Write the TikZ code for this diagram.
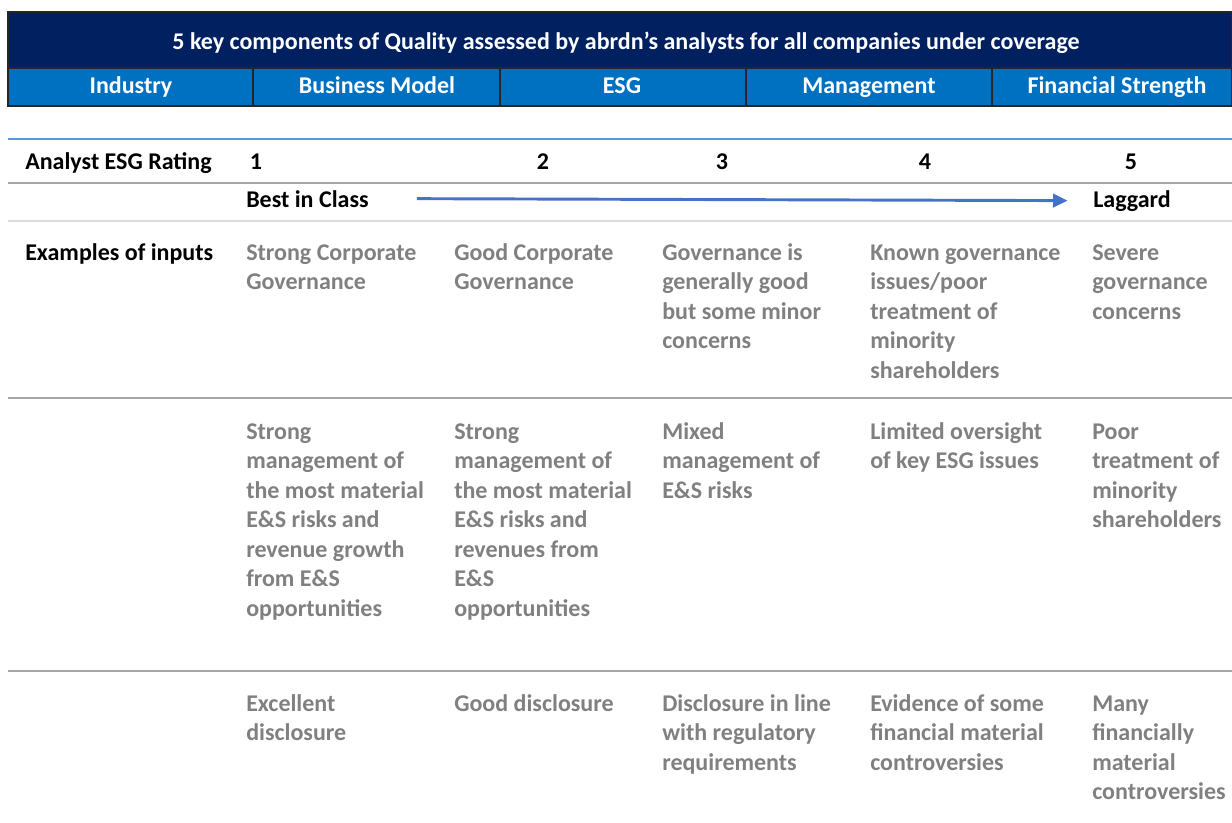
\documentclass[tikz,border=0pt]{standalone}
\usepackage{fontspec}
\setmainfont{Carlito}
\usetikzlibrary{arrows.meta,positioning}
\definecolor{navy}{HTML}{002060}
\definecolor{midblue}{HTML}{0070C0}
\definecolor{lineblue}{HTML}{5B9BD5}
\definecolor{arrowblue}{HTML}{4472C4}
\definecolor{inputgrey}{HTML}{808080}
\definecolor{rulegrey}{HTML}{A6A6A6}
\newcommand\tabfont{\fontsize{18}{22.1}\selectfont\bfseries}
\tikzset{
 >={Triangle[length=11pt,width=10pt]},
 head/.style={font=\tabfont, text=white, anchor=base, inner sep=0pt},
 lbl/.style={font=\tabfont, anchor=base west, inner sep=0pt},
 num/.style={font=\tabfont, anchor=base, inner sep=0pt},
 inp/.style={font=\tabfont, text=inputgrey, anchor=north west, align=left, inner sep=0pt},
 rule/.style={draw=rulegrey, line width=1.2pt}
}

\begin{document}
\begin{tikzpicture}[x=0.75pt,y=-0.75pt]
\useasboundingbox (0,0) rectangle (1232,822);

% header bands
\fill[navy] (8,12) rectangle (1232,68);
\fill[midblue] (8,68) rectangle (1232,106);
\draw[black!85, line width=1pt] (8,12) rectangle (1232,106);
\draw[black!85, line width=1pt] (8,68) -- (1232,68);
\foreach \x in {253,500,746,992}
  \draw[black!85, line width=1pt] (\x,68) -- (\x,106);

\path (626,49) node[name=title, head] {5 key components of Quality assessed by abrdn’s analysts for all companies under coverage};
\path (131,93) node[name=industry, head] {Industry};
\path (377,93) node[name=business, head] {Business Model};
\path (622,93) node[name=esg, head] {ESG};
\path (869,93) node[name=mgmt, head] {Management};
\path (1117,93) node[name=finance, head] {Financial Strength};

% rules
\draw[lineblue, line width=1.5pt] (8,139) -- (1232,139);
\draw[rule] (8,183) -- (1232,183);
\draw[rule, draw=rulegrey!40] (8,221) -- (1232,221);
\draw[rule] (8,398) -- (1232,398);
\draw[rule] (8,671) -- (1232,671);

% rating row
\path (25,169) node[name=rating, lbl] {Analyst ESG Rating};
\path (256,169) node[name=r1, num] {1};
\path (543,169) node[name=r2, num] {2};
\path (722,169) node[name=r3, num] {3};
\path (925,169) node[name=r4, num] {4};
\path (1131,169) node[name=r5, num] {5};

\path (246,207) node[name=best, lbl] {Best in Class};
\path (1093,207) node[name=lag, lbl] {Laggard};
\draw[->, arrowblue, line width=2.2pt] ([xshift=36pt]best.east) -- ([xshift=-19pt]lag.west);

% inputs (strut top = baseline - 20.6)
\path (25,260) node[name=inputs, lbl] {Examples of inputs};

\path (246,239.4) node[name=gov1, inp] {\strut Strong Corporate\\Governance};
\path (454,239.4) node[name=gov2, inp] {\strut Good Corporate\\Governance};
\path (662,239.4) node[name=gov3, inp] {\strut Governance is\\generally good\\but some minor\\concerns};
\path (870,239.4) node[name=gov4, inp] {\strut Known governance\\issues/poor\\treatment of\\minority\\shareholders};
\path (1092,239.4) node[name=gov5, inp] {\strut Severe\\governance\\concerns};

\path (246,418.4) node[name=mgt1, inp] {\strut Strong\\management of\\the most material\\E\&S risks and\\revenue growth\\from E\&S\\opportunities};
\path (454,418.4) node[name=mgt2, inp] {\strut Strong\\management of\\the most material\\E\&S risks and\\revenues from\\E\&S\\opportunities};
\path (662,418.4) node[name=mgt3, inp] {\strut Mixed\\management of\\E\&S risks};
\path (870,418.4) node[name=mgt4, inp] {\strut Limited oversight\\of key ESG issues};
\path (1092,418.4) node[name=mgt5, inp] {\strut Poor\\treatment of\\minority\\shareholders};

\path (246,690.4) node[name=dis1, inp] {\strut Excellent\\disclosure};
\path (454,690.4) node[name=dis2, inp] {\strut Good disclosure};
\path (662,690.4) node[name=dis3, inp] {\strut Disclosure in line\\with regulatory\\requirements};
\path (870,690.4) node[name=dis4, inp] {\strut Evidence of some\\financial material\\controversies};
\path (1092,690.4) node[name=dis5, inp] {\strut Many\\financially\\material\\controversies};
\end{tikzpicture}
\end{document}
